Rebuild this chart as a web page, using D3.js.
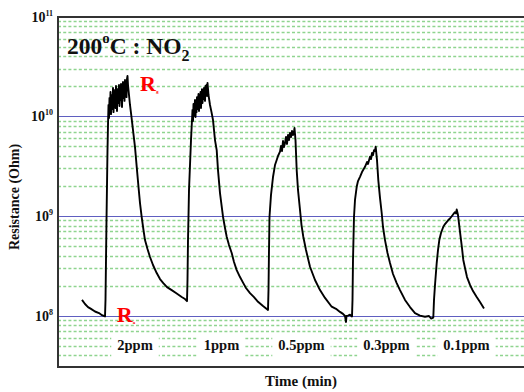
<!DOCTYPE html>
<html>
<head>
<meta charset="utf-8">
<script src="https://cdn.jsdelivr.net/npm/d3@7"></script>
<style>
  html, body { margin: 0; padding: 0; background: #fff; }
  svg { display: block; }
</style>
</head>
<body>
<svg id="chart" width="524" height="392"></svg>
<script>
// Sensor response at 200 °C to NO2 pulses: time (min) and resistance (Ohm)
const timeMin = [
  12, 13.5, 15, 16.5, 18.5, 20.5, 22, 23.5,
  23.75, 24, 24.25, 24.5, 24.75, 25,
  25.25, 25.5, 25.75, 26, 26.25, 26.5, 26.75, 27, 27.25, 27.5, 27.75, 28, 28.25, 28.5, 28.75, 29, 29.25, 29.5, 29.75, 30,
  30.25, 30.5, 30.75, 31, 31.25, 31.5, 31.75, 32, 32.25, 32.5, 32.75, 33, 33.25, 33.5, 33.75, 34, 34.25, 34.5, 34.75, 35,
  35.5, 36, 36.75, 37.5, 38.5, 39.5, 40.25, 41, 41.85, 42.75, 43.5, 44.75, 46, 47.5, 49.35, 51, 52.65, 54.5, 56.85, 59, 61.85, 63.5, 64.5,
  64.75, 65, 65.25, 65.5, 66, 66.5, 67,
  67.25, 67.5, 67.75, 68, 68.25, 68.5, 68.75, 69, 69.25, 69.5, 69.75, 70, 70.25, 70.5, 70.75, 71,
  71.25, 71.5, 71.75, 72, 72.25, 72.5, 72.75, 73, 73.25, 73.5, 73.75, 74, 74.25, 74.5, 74.75,
  75.25, 76, 76.75, 77.5, 78.5, 79.35, 80, 81, 81.75, 82.5, 83.5, 84.35, 85.5, 86.85, 88, 89.35, 91, 92.65, 94, 96, 98, 100, 102.5, 105,
  105.25, 105.5, 105.75, 106.5, 107.5, 108.5, 109.35, 110, 111,
  111.5, 112, 112.5, 113, 113.5, 114, 114.5, 115, 115.5, 116, 116.5, 117, 117.5, 118, 118.25,
  118.75, 119.35, 120, 121, 121.75, 122.65, 124, 126, 128.5, 131, 133.5, 136.85, 139, 141, 142.5, 143.5, 144, 144.25, 145, 146, 147,
  147.25, 147.5, 148, 148.5, 149.35, 150, 151, 152, 153.5, 154.5, 155, 156, 156.5, 157, 157.5, 158, 158.5, 158.85,
  159.5, 160.15, 161, 161.85, 162.5, 163.5, 164.75, 166, 167.5, 169.35, 171, 173.5, 176, 178.5, 181, 183.5, 185.5, 186.5, 187.65,
  188, 188.5, 189.35, 190, 190.65, 191.5, 192.65, 193.5, 195.15, 196, 197.65, 198.5, 199, 199.35,
  200, 201, 202, 202.65, 203.5, 204.5, 206, 207.5, 209.35, 211, 213
];

const resistanceOhm = [
  1.45e8, 1.32e8, 1.23e8, 1.18e8, 1.11e8, 1.07e8, 1.02e8, 9.9e7,
  1.45e8, 3.65e8, 9.18e8, 2.06e9, 4.62e9, 8.24e9,
  1.31e10, 9.70e9, 1.54e10, 1.17e10, 1.77e10, 1.06e10, 1.44e10, 1.65e10, 1.19e10, 1.94e10, 1.11e10, 1.57e10, 1.34e10, 1.85e10, 1.22e10, 2.03e10, 1.50e10, 1.14e10, 1.89e10, 1.37e10,
  1.73e10, 2.08e10, 1.28e10, 1.81e10, 1.47e10, 2.13e10, 1.65e10, 1.25e10, 1.94e10, 2.23e10, 1.54e10, 1.85e10, 1.44e10, 2.33e10, 1.73e10, 2.03e10, 1.57e10, 2.39e10, 2.56e10, 2.08e10,
  1.65e10, 1.31e10, 9.91e9, 7.34e9, 4.95e9, 2.91e9, 1.97e9, 1.36e9, 9.84e8, 7.29e8, 5.78e8, 4.70e8, 3.91e8, 3.25e8, 2.70e8, 2.35e8, 2.14e8, 1.95e8, 1.82e8, 1.70e8, 1.55e8, 1.48e8, 1.41e8,
  2.30e8, 5.78e8, 1.01e9, 1.84e9, 3.27e9, 5.82e9, 9.25e9,
  1.17e10, 9.05e9, 1.34e10, 1.02e10, 1.22e10, 1.47e10, 9.92e9, 1.37e10, 1.11e10, 1.57e10, 1.19e10, 1.44e10, 1.69e10, 1.14e10, 1.50e10, 1.31e10,
  1.77e10, 1.22e10, 1.61e10, 1.89e10, 1.37e10, 1.73e10, 1.50e10, 1.94e10, 1.65e10, 1.44e10, 2.03e10, 1.77e10, 2.08e10, 1.61e10, 2.18e10,
  1.65e10, 1.31e10, 1.11e10, 9.25e9, 5.82e9, 4.62e9, 2.91e9, 1.71e9, 1.30e9, 9.91e8, 7.64e8, 6.24e8, 5.15e8, 4.29e8, 3.48e8, 2.89e8, 2.46e8, 2.14e8, 1.91e8, 1.70e8, 1.55e8, 1.39e8, 1.26e8, 1.15e8,
  1.82e8, 4.59e8, 9.91e8, 1.64e9, 2.48e9, 3.27e9, 3.67e9, 4.03e9, 4.45e9,
  5.08e9, 4.52e9, 5.70e9, 4.96e9, 5.44e9, 6.25e9, 5.32e9, 6.55e9, 5.83e9, 6.86e9, 6.25e9, 7.18e9, 6.55e9, 7.02e9, 7.69e9,
  5.82e9, 2.91e9, 1.84e9, 1.16e9, 8.18e8, 6.24e8, 4.59e8, 3.12e8, 2.30e8, 1.82e8, 1.52e8, 1.24e8, 1.18e8, 1.10e8, 1.05e8, 1.00e8, 8.71e7, 1.00e8, 1.01e8, 1.03e8, 9.9e7,
  1.45e8, 3.65e8, 9.91e8, 1.46e9, 1.98e9, 2.26e9, 2.49e9, 2.78e9, 3.14e9, 3.51e9, 3.35e9, 3.96e9, 3.76e9, 4.32e9, 4.12e9, 4.62e9, 4.52e9, 4.99e9,
  3.67e9, 2.31e9, 1.53e9, 1.08e9, 7.82e8, 5.78e8, 4.29e8, 3.40e8, 2.64e8, 2.14e8, 1.82e8, 1.45e8, 1.23e8, 1.07e8, 1.01e8, 9.84e7, 1.00e8, 9.44e7, 9.66e7,
  1.45e8, 2.05e8, 3.40e8, 4.59e8, 5.78e8, 6.81e8, 7.87e8, 8.37e8, 9.18e8, 9.51e8, 1.05e9, 1.10e9, 1.07e9, 1.17e9,
  1.03e9, 6.97e8, 4.81e8, 3.65e8, 3.03e8, 2.46e8, 2.05e8, 1.78e8, 1.55e8, 1.38e8, 1.19e8
];

// NO2 concentration of each pulse, placed at the middle of its time window
const gasLabels = ["2ppm", "1ppm", "0.5ppm", "0.3ppm", "0.1ppm"];
const gasLabelTimes = [38.5, 81.75, 121.75, 164.25, 204.25];

// Decade tick labels on the resistance axis
const decadeExponents = [8, 9, 10, 11];

// Response / baseline markers: [label, subscript, time, resistance]
const markerLabels = [
  ["R", "g", 41, 1.8e10],
  ["R", "a", 29.4, 8.7e7]
];

const serif = "'Liberation Serif', 'Times New Roman', serif";
const svg = d3.select("#chart");
const W = 524, H = 392;
const plot = { left: 58, top: 17, right: 538, bottom: 367 };

const x = d3.scaleLinear().domain([0, 240]).range([plot.left, plot.right]);
const y = d3.scaleLog().domain([3.08e7, 1e11]).range([plot.bottom, plot.top]);

svg.append("rect").attr("width", W).attr("height", H).attr("fill", "#fff");

// Horizontal grid: dashed green at 2..9 x 10^n, solid blue at each decade
const minorVals = [], majorVals = [];
for (let e = 7; e <= 10; e++) {
  for (let k = 1; k <= 9; k++) {
    const v = k * Math.pow(10, e);
    if (v <= y.domain()[0] || v >= y.domain()[1]) continue;
    (k === 1 ? majorVals : minorVals).push(v);
  }
}
const gridY = v => Math.floor(y(v)) + 0.5;
const grid = svg.append("g");
grid.selectAll("line.minor")
  .data(minorVals)
  .join("line")
  .attr("class", "minor")
  .attr("x1", plot.left).attr("x2", plot.right)
  .attr("y1", gridY).attr("y2", gridY)
  .attr("stroke", "#8fd48f").attr("stroke-width", 1.3)
  .attr("stroke-dasharray", "3,2.2");
grid.selectAll("line.major")
  .data(majorVals)
  .join("line")
  .attr("class", "major")
  .attr("x1", plot.left).attr("x2", plot.right)
  .attr("y1", gridY).attr("y2", gridY)
  .attr("stroke", "#5f5fc0").attr("stroke-width", 1.2);

// Concentration labels on white patches
const labelG = svg.append("g");
gasLabels.forEach((lab, i) => {
  const g = labelG.append("g");
  const t = g.append("text")
    .attr("x", x(gasLabelTimes[i])).attr("y", 350)
    .attr("text-anchor", "middle")
    .attr("font-family", serif).attr("font-weight", "bold").attr("font-size", 14.5)
    .attr("fill", "#111")
    .text(lab);
  const bb = t.node().getBBox();
  g.insert("rect", "text")
    .attr("x", bb.x - 6).attr("y", 334)
    .attr("width", bb.width + 12).attr("height", 26)
    .attr("fill", "#fff");
});

// Response curve
const points = d3.zip(timeMin, resistanceOhm);
svg.append("path")
  .datum(points)
  .attr("fill", "none")
  .attr("stroke", "#000")
  .attr("stroke-width", 1.9)
  .attr("stroke-linejoin", "round")
  .attr("d", d3.line().x(d => x(d[0])).y(d => y(d[1])));

// Plot frame
svg.append("rect")
  .attr("x", plot.left).attr("y", plot.top)
  .attr("width", plot.right - plot.left).attr("height", plot.bottom - plot.top)
  .attr("fill", "none").attr("stroke", "#333").attr("stroke-width", 2);

// Decade labels 10^n
const yLab = svg.append("g");
decadeExponents.forEach(e => {
  const t = yLab.append("text")
    .attr("x", 53).attr("y", y(Math.pow(10, e)) + 4.5)
    .attr("text-anchor", "end")
    .attr("font-family", serif).attr("font-weight", "bold").attr("font-size", 14)
    .attr("fill", "#111");
  t.append("tspan").text("10");
  t.append("tspan").attr("dy", -6).attr("font-size", 8).text(e);
});

// Axis titles
svg.append("text")
  .attr("transform", "translate(19,197) rotate(-90)")
  .attr("text-anchor", "middle")
  .attr("font-family", serif).attr("font-weight", "bold").attr("font-size", 14)
  .attr("fill", "#111")
  .text("Resistance (Ohm)");

svg.append("text")
  .attr("x", 301).attr("y", 386)
  .attr("text-anchor", "middle")
  .attr("font-family", serif).attr("font-weight", "bold").attr("font-size", 15)
  .attr("fill", "#111")
  .text("Time (min)");

// Panel title: 200°C : NO2
const title = svg.append("text")
  .attr("x", 67).attr("y", 54)
  .attr("font-family", serif).attr("font-weight", "bold").attr("font-size", 23.5)
  .attr("fill", "#111");
title.append("tspan").text("200");
title.append("tspan").attr("dy", -11).attr("font-size", 15).text("o");
title.append("tspan").attr("dy", 11).text("C : NO");
title.append("tspan").attr("dy", 7).attr("font-size", 16).text("2");

// R markers
markerLabels.forEach(([main, sub, t, r]) => {
  const txt = svg.append("text")
    .attr("x", x(t)).attr("y", y(r))
    .attr("font-family", serif).attr("font-weight", "bold").attr("font-size", 22)
    .attr("fill", "#f00");
  txt.append("tspan").text(main);
  txt.append("tspan").attr("dy", 2).attr("font-size", 5).text(sub);
});
</script>
</body>
</html>
